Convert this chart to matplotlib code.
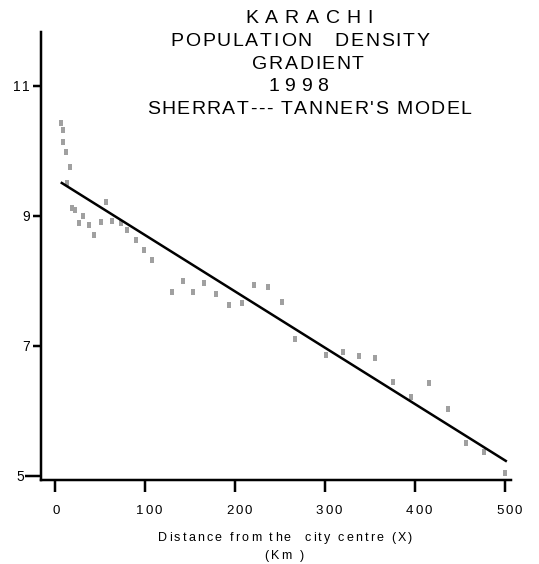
import numpy as np
import matplotlib.pyplot as plt
from matplotlib.font_manager import FontProperties, findfont
from matplotlib.ft2font import FT2Font

plt.rcParams['font.family'] = ['Liberation Sans', 'DejaVu Sans']

# observed points: distance (km) vs ln(density)
distance = [6.4, 8.6, 8.6, 11.9, 16.7, 13.1, 18.6, 22.3, 31.6, 27.1, 37.6, 43.2,
            51.0, 56.9, 63.3, 73.3, 79.6, 89.6, 99.0, 107.5, 130.2, 141.7, 153.7,
            166.0, 179.4, 193.1, 207.3, 221.3, 236.6, 252.2, 266.4, 300.6, 319.5,
            337.4, 355.2, 375.3, 395.4, 415.2, 436.4, 456.5, 476.9, 500.0]
log_density = [10.43, 10.33, 10.14, 9.98, 9.75, 9.51, 9.13, 9.10, 9.01, 8.89, 8.86, 8.71,
               8.91, 9.22, 8.93, 8.90, 8.78, 8.63, 8.48, 8.32, 7.83, 8.01, 7.84,
               7.98, 7.81, 7.63, 7.66, 7.94, 7.91, 7.68, 7.12, 6.86, 6.91,
               6.85, 6.82, 6.45, 6.22, 6.43, 6.03, 5.52, 5.37, 5.06]

# fitted line (Sherratt-Tanner)
fit_x = [7.5, 500.9]
fit_intercept = 9.575
fit_slope = -0.008655

xticks = [0, 100, 200, 300, 400, 500]
yticks = [5, 7, 9, 11]

title_lines = ['K A R A C H I', 'POPULATION   DENSITY', 'GRADIENT', '1 9 9 8',
               "SHERRAT--- TANNER'S MODEL"]
xlabel_lines = ['Distance from the  city centre (X)', '(Km )']

W, H = 539, 564
PT = 0.72  # points per pixel at dpi 100
fig = plt.figure(figsize=(W / 100, H / 100), dpi=100)
ax = fig.add_axes([41 / W, 1 - 480 / H, 470 / W, 448 / H])


def spaced_text(x, y, s, size, track, ha='center'):
    # text with extra letter spacing; x, y in pixels from top-left, y = baseline
    fp = FontProperties(family='Liberation Sans', size=size)
    font = FT2Font(findfont(fp))
    font.set_size(size, 100)
    adv = [font.load_char(ord(c)).linearHoriAdvance / 65536 for c in s]
    total = sum(adv) + track * (len(s) - 1)
    x0 = x - total / 2 if ha == 'center' else (x - total if ha == 'right' else x)
    for c, a in zip(s, adv):
        if c != ' ':
            fig.text(x0 / W, 1 - y / H, c, fontproperties=fp, ha='left', va='baseline')
        x0 += a + track


ax.plot(distance, log_density, linestyle='none',
        marker=[(-0.8, -1), (0.8, -1), (0.8, 1), (-0.8, 1)], markersize=4,
        color='#a0a0a0', markeredgewidth=0)
fx = np.array(fit_x)
ax.plot(fx, fit_intercept + fit_slope * fx, color='black', lw=2.5 * PT)

ax.set_xlim(-15.6, 506.7)
ax.set_ylim(4.946, 11.83)
ax.set_xticks(xticks)
ax.set_yticks(yticks)
ax.set_xticklabels([])
ax.set_yticklabels([])
ax.tick_params(axis='x', direction='out', length=12 * PT, width=2.5 * PT)
ax.tick_params(axis='y', direction='out', length=8 * PT, width=2.5 * PT)
ax.yaxis.get_major_ticks()[0].tick1line.set_markersize(16 * PT)

for s in ['top', 'right']:
    ax.spines[s].set_visible(False)
for s in ['left', 'bottom']:
    ax.spines[s].set_linewidth(2.5 * PT)

# tick labels
for v in xticks:
    px = ax.transData.transform((v, 0))[0]
    spaced_text(px + (4 if v else 1), 514, str(v), 9.5, 2)
for v in yticks:
    py = H - ax.transData.transform((0, v))[1]
    right = 41 - (17 if v == 5 else 11)
    spaced_text(right, py + 5, str(v), 10, 1.5, ha='right')

spaced_text(285, 541, xlabel_lines[0], 9, 2.2)
spaced_text(284, 559, xlabel_lines[1], 9, 2.2)

title_x = [309, 300, 308, 298, 309]
title_track = [0.7, 1.7, 1.6, 0, 1.45]
for i, line in enumerate(title_lines):
    spaced_text(title_x[i], 23 + 22.8 * i, line, 14, title_track[i])

fig.savefig('out.png', dpi=100)
